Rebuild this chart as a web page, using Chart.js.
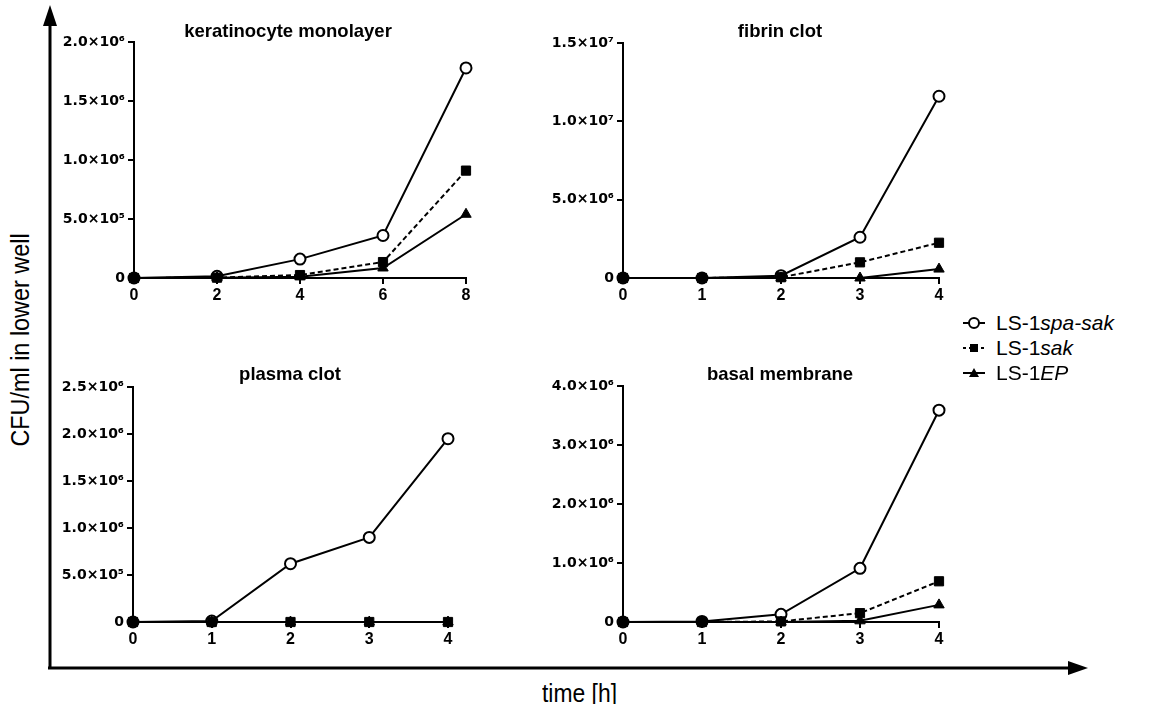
<!DOCTYPE html>
<html lang="en">
<head>
  <meta charset="UTF-8" />
  <title>CFU in lower well</title>
  <script src="https://cdn.jsdelivr.net/npm/chart.js"></script>
  <style>
    * { margin: 0; padding: 0; box-sizing: border-box; }

    body {
      width: 1150px;
      height: 704px;
      background: #fff;
      font-family: 'Liberation Sans', Arial, sans-serif;
      color: #000;
      position: relative;
      overflow: hidden;
    }

    #arrows { position: absolute; left: 0; top: 0; }

    canvas { position: absolute; }

    .title {
      position: absolute;
      font-weight: bold;
      font-size: 18.5px;
      line-height: 20px;
      white-space: nowrap;
      transform: translateX(-50%);
    }

    /* no narrow font installed, so squeeze the axis titles a bit */
    .ytitle {
      position: absolute;
      left: 7px;
      top: 340px;
      font-size: 26px;
      line-height: 26px;
      writing-mode: vertical-rl;
      transform: translateY(-50%) rotate(180deg) scaleY(0.9);
      white-space: nowrap;
    }

    .xtitle {
      position: absolute;
      left: 542px;
      top: 678px;
      font-size: 26px;
      line-height: 30px;
      white-space: nowrap;
      transform-origin: left center;
      transform: scaleX(0.88);
    }

    .legend {
      position: absolute;
      left: 963px;
      top: 310px;
      font-size: 21px;
    }

    .legend .row {
      display: flex;
      align-items: center;
      height: 25px;
    }

    .legend svg { margin-right: 11px; }
  </style>
</head>
<body>

  <svg id="arrows" width="1150" height="704">
    <line x1="50" y1="668" x2="50" y2="24" stroke="#000" stroke-width="3" />
    <polygon points="50,5 43,26 57,26" fill="#000" />
    <line x1="48" y1="668" x2="1070" y2="668" stroke="#000" stroke-width="3" />
    <polygon points="1088,668 1068,661 1068,675" fill="#000" />
  </svg>

  <canvas id="kerChart"></canvas>
  <canvas id="fibChart"></canvas>
  <canvas id="plaChart"></canvas>
  <canvas id="basChart"></canvas>

  <div class="title" style="left:288px; top:21px;">keratinocyte monolayer</div>
  <div class="title" style="left:780px; top:21px;">fibrin clot</div>
  <div class="title" style="left:290px; top:364px;">plasma clot</div>
  <div class="title" style="left:780px; top:364px;">basal membrane</div>

  <div class="ytitle">CFU/ml in lower well</div>
  <div class="xtitle">time [h]</div>

  <div class="legend">
    <div class="row">
      <svg width="22" height="14"><line x1="0" y1="7" x2="22" y2="7" stroke="#000" stroke-width="2"/><circle cx="11" cy="7" r="5" fill="#fff" stroke="#000" stroke-width="2"/></svg>
      <span>LS-1<i>spa-sak</i></span>
    </div>
    <div class="row">
      <svg width="22" height="14"><line x1="0" y1="7" x2="22" y2="7" stroke="#000" stroke-width="2" stroke-dasharray="3,3"/><rect x="7" y="3" width="8" height="8" fill="#000"/></svg>
      <span>LS-1<i>sak</i></span>
    </div>
    <div class="row">
      <svg width="22" height="14"><line x1="0" y1="7" x2="22" y2="7" stroke="#000" stroke-width="2"/><polygon points="11,2 16,11 6,11" fill="#000"/></svg>
      <span>LS-1<i>EP</i></span>
    </div>
  </div>

  <script>
    // time points
    const kerHours = [0, 2, 4, 6, 8];
    const clotHours = [0, 1, 2, 3, 4];

    // keratinocyte monolayer
    const kerSpaSak = [0, 15000, 160000, 360000, 1780000];
    const kerSak = [0, 3000, 25000, 135000, 910000];
    const kerEP = [0, 2000, 10000, 85000, 540000];

    // fibrin clot
    const fibSpaSak = [0, 0, 150000, 2600000, 11600000];
    const fibSak = [0, 0, 50000, 1000000, 2250000];
    const fibEP = [0, 0, 0, 0, 570000];

    // plasma clot
    const plaSpaSak = [0, 10000, 620000, 900000, 1950000];
    const plaSak = [0, 0, 0, 0, 0];
    const plaEP = [0, 0, 0, 0, 0];

    // basal membrane
    const basSpaSak = [0, 10000, 130000, 910000, 3590000];
    const basSak = [0, 0, 10000, 150000, 690000];
    const basEP = [0, 0, 0, 20000, 290000];

    // y tick values / labels
    const kerYTicks = [0, 500000, 1000000, 1500000, 2000000];
    const kerYLabels = ['0', '5.0×10⁵', '1.0×10⁶', '1.5×10⁶', '2.0×10⁶'];
    const fibYTicks = [0, 5000000, 10000000, 15000000];
    const fibYLabels = ['0', '5.0×10⁶', '1.0×10⁷', '1.5×10⁷'];
    const plaYTicks = [0, 500000, 1000000, 1500000, 2000000, 2500000];
    const plaYLabels = ['0', '5.0×10⁵', '1.0×10⁶', '1.5×10⁶', '2.0×10⁶', '2.5×10⁶'];
    const basYTicks = [0, 1000000, 2000000, 3000000, 4000000];
    const basYLabels = ['0', '1.0×10⁶', '2.0×10⁶', '3.0×10⁶', '4.0×10⁶'];

    const Y_AXIS_W = 74;
    const X_AXIS_H = 34;

    function toPoints(xs, ys) {
      return xs.map((x, i) => ({ x: x, y: ys[i] }));
    }

    function makePanel(id, box, hours, spaSak, sak, ep, yTicks, yLabels) {
      const canvas = document.getElementById(id);
      const left = box.left - Y_AXIS_W;
      const top = box.top - 12;
      const width = box.right + 20 - left;
      const height = box.bottom + X_AXIS_H - top;
      canvas.width = width;
      canvas.height = height;
      canvas.style.left = left + 'px';
      canvas.style.top = top + 'px';
      canvas.style.width = width + 'px';
      canvas.style.height = height + 'px';

      const axisLine = { display: true, color: '#000', width: 2 };
      const tickMarks = { display: true, drawOnChartArea: false, drawTicks: true, tickLength: 6, color: '#000', lineWidth: 2 };

      return new Chart(canvas.getContext('2d'), {
        type: 'line',
        data: {
          datasets: [
            {
              label: 'LS-1spa-sak',
              data: toPoints(hours, spaSak),
              borderColor: '#000',
              borderWidth: 2,
              pointStyle: 'circle',
              pointRadius: 5.5,
              pointBackgroundColor: '#fff',
              pointBorderColor: '#000',
              pointBorderWidth: 2,
              order: 3
            },
            {
              label: 'LS-1sak',
              data: toPoints(hours, sak),
              borderColor: '#000',
              borderWidth: 2,
              borderDash: [5, 3],
              pointStyle: 'rect',
              pointRadius: 6.5,
              pointBackgroundColor: '#000',
              pointBorderColor: '#000',
              pointBorderWidth: 1,
              order: 2
            },
            {
              label: 'LS-1EP',
              data: toPoints(hours, ep),
              borderColor: '#000',
              borderWidth: 2,
              pointStyle: 'triangle',
              pointRadius: 6,
              pointBackgroundColor: '#000',
              pointBorderColor: '#000',
              pointBorderWidth: 1,
              order: 1
            }
          ]
        },
        options: {
          responsive: false,
          devicePixelRatio: 1,
          animation: false,
          events: [],
          clip: false,
          layout: { padding: { top: 12, right: 20, left: 0, bottom: 0 } },
          plugins: {
            legend: { display: false },
            tooltip: { enabled: false },
            title: { display: false }
          },
          elements: { line: { tension: 0, fill: false } },
          scales: {
            x: {
              type: 'linear',
              min: hours[0],
              max: hours[hours.length - 1],
              afterBuildTicks: s => { s.ticks = hours.map(v => ({ value: v })); },
              afterFit: s => { s.height = X_AXIS_H; },
              ticks: {
                color: '#000',
                padding: 2,
                maxRotation: 0,
                autoSkip: false,
                font: { family: "'Liberation Sans', Arial", size: 16, weight: 'bold' }
              },
              grid: tickMarks,
              border: axisLine
            },
            y: {
              type: 'linear',
              min: 0,
              max: yTicks[yTicks.length - 1],
              afterBuildTicks: s => { s.ticks = yTicks.map(v => ({ value: v })); },
              afterFit: s => { s.width = Y_AXIS_W; },
              ticks: {
                color: '#000',
                padding: 3,
                autoSkip: false,
                callback: (v) => yLabels[yTicks.indexOf(v)],
                font: { family: "'DejaVu Sans', 'Liberation Sans', Arial", size: 14, weight: 'bold' }
              },
              grid: tickMarks,
              border: axisLine
            }
          }
        }
      });
    }

    makePanel('kerChart', { left: 134, right: 466, top: 42, bottom: 278 },
      kerHours, kerSpaSak, kerSak, kerEP, kerYTicks, kerYLabels);
    makePanel('fibChart', { left: 623, right: 939, top: 43, bottom: 278 },
      clotHours, fibSpaSak, fibSak, fibEP, fibYTicks, fibYLabels);
    makePanel('plaChart', { left: 133, right: 448, top: 387, bottom: 622 },
      clotHours, plaSpaSak, plaSak, plaEP, plaYTicks, plaYLabels);
    makePanel('basChart', { left: 623, right: 939, top: 386, bottom: 622 },
      clotHours, basSpaSak, basSak, basEP, basYTicks, basYLabels);
  </script>
</body>
</html>
